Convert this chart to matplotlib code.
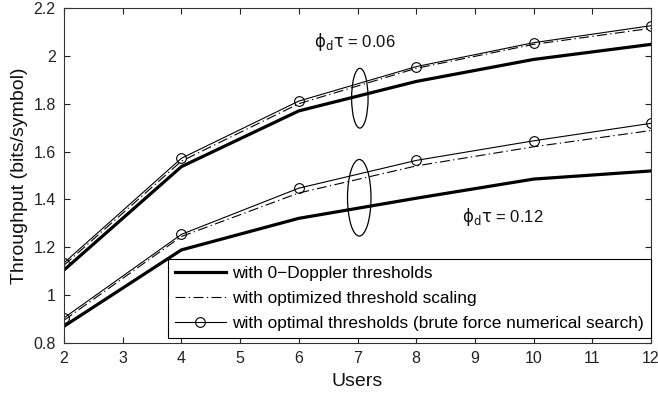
import matplotlib
matplotlib.use("Agg")
import matplotlib.pyplot as plt
from matplotlib.patches import Ellipse
from matplotlib.ticker import FuncFormatter

plt.rcParams['font.family'] = ['Liberation Sans', 'DejaVu Sans']
plt.rcParams['mathtext.fontset'] = 'dejavusans'

users = [2, 4, 6, 8, 10, 12]

# phi_d*tau = 0.06
zero_doppler_006 = [1.105, 1.537, 1.770, 1.893, 1.985, 2.048]
scaling_006 = [1.125, 1.560, 1.800, 1.948, 2.048, 2.115]
optimal_006 = [1.135, 1.572, 1.811, 1.955, 2.055, 2.126]

# phi_d*tau = 0.12
zero_doppler_012 = [0.870, 1.189, 1.321, 1.405, 1.485, 1.519]
scaling_012 = [0.895, 1.245, 1.427, 1.540, 1.620, 1.688]
optimal_012 = [0.905, 1.254, 1.447, 1.563, 1.645, 1.718]

x_ticks = [2, 3, 4, 5, 6, 7, 8, 9, 10, 11, 12]
y_ticks = [0.8, 1.0, 1.2, 1.4, 1.6, 1.8, 2.0, 2.2]

legend_labels = ['with 0\u2212Doppler thresholds',
                 'with optimized threshold scaling',
                 'with optimal thresholds (brute force numerical search)']

fig = plt.figure(figsize=(6.58, 3.96), dpi=100)
ax = fig.add_axes([64 / 658, 1 - 343 / 396, (651 - 64) / 658, (343 - 8) / 396])

thick = dict(color='black', lw=2.3)
dashdot = dict(color='black', lw=0.8, linestyle=(0, (9, 3, 1.2, 3)))
circ = dict(color='black', lw=0.8, marker='o', markersize=7,
            markerfacecolor='none', markeredgewidth=0.8)

l1, = ax.plot(users, zero_doppler_006, **thick)
l2, = ax.plot(users, scaling_006, **dashdot)
l3, = ax.plot(users, optimal_006, **circ)
ax.plot(users, zero_doppler_012, **thick)
ax.plot(users, scaling_012, **dashdot)
ax.plot(users, optimal_012, **circ)

# group markers around the curve bundles
ax.add_patch(Ellipse((7.04, 1.823), 0.28, 0.25, fill=False, lw=0.9, color='black'))
ax.add_patch(Ellipse((7.03, 1.407), 0.40, 0.32, fill=False, lw=0.9, color='black'))

ax.text(6.26, 2.036, r'$\mathrm{\phi_d\tau}$ = 0.06', fontsize=12, color='#111111')
ax.text(8.78, 1.305, r'$\mathrm{\phi_d\tau}$ = 0.12', fontsize=12, color='#111111')

ax.set_xlim(2, 12)
ax.set_ylim(0.8, 2.2)
ax.set_xticks(x_ticks)
ax.set_yticks(y_ticks)
ax.yaxis.set_major_formatter(FuncFormatter(lambda v, p: '%g' % round(v, 2)))
ax.tick_params(direction='in', top=True, right=True, labelsize=11.5, length=4,
               width=0.8, colors='#222222', pad=6)
for s in ax.spines.values():
    s.set_linewidth(0.8)
    s.set_color('#333333')

ax.set_xlabel('Users', fontsize=14, color='#111111', labelpad=5)
ax.set_ylabel('Throughput (bits/symbol)', fontsize=14, color='#111111', labelpad=4)

leg = ax.legend([l1, l2, l3], legend_labels, loc='lower right',
                bbox_to_anchor=(1.0, 0.015), borderaxespad=0, fontsize=12.4,
                frameon=True, fancybox=False, edgecolor='black', framealpha=1,
                handlelength=3.0, handletextpad=0.35, labelspacing=0.58,
                borderpad=0.4, numpoints=1)
leg.get_frame().set_linewidth(0.8)

fig.savefig('out.png', dpi=100)
